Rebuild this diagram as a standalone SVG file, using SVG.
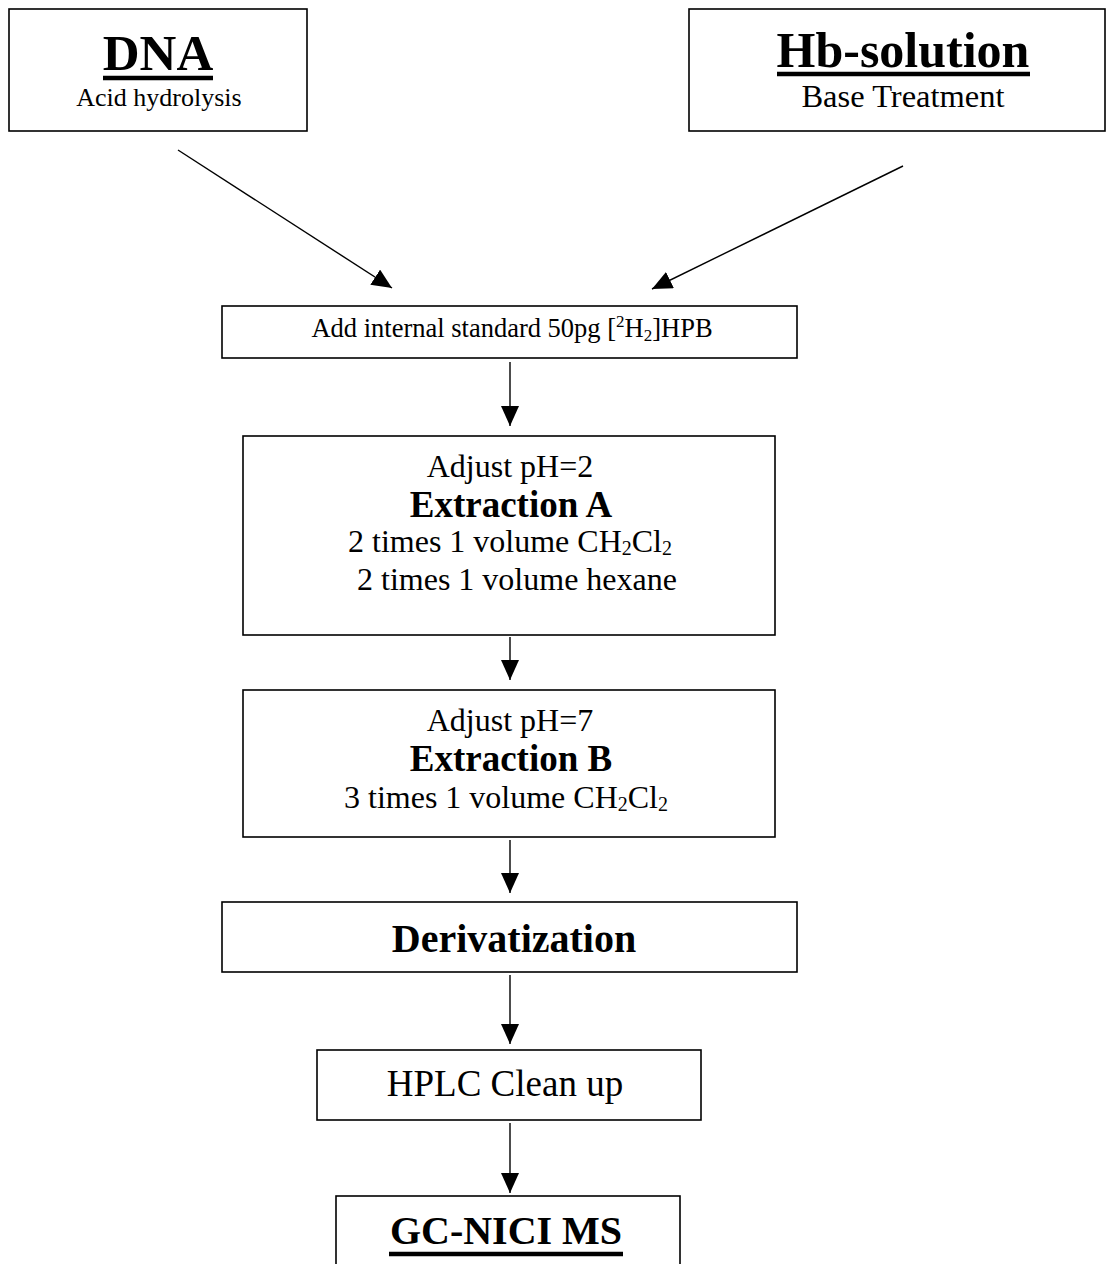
<svg xmlns="http://www.w3.org/2000/svg" width="1107" height="1264" viewBox="0 0 1107 1264">
<style>
.box{fill:#fff;stroke:#000;stroke-width:1.6}
.t{fill:#000;text-anchor:middle}
.b{font-weight:bold}
.ul{stroke:#000;stroke-width:4.5}
.conn line{stroke:#000;stroke-width:1.4}
</style>
<defs>
<marker id="ah" markerUnits="userSpaceOnUse" markerWidth="22" markerHeight="20" refX="20" refY="9" orient="auto">
<path d="M0,0 L20,9 L0,18 Z" fill="#000"/>
</marker>
</defs>
<rect width="1107" height="1264" fill="#fff"/>
<g font-family="Liberation Serif, Times New Roman, serif">
<g id="n-dna">
<rect class="box" x="9" y="9" width="298" height="122"/>
<text class="t b" x="158" y="70" font-size="51">DNA</text>
<line class="ul" x1="103" y1="78" x2="213" y2="78"/>
<text class="t" x="159" y="106" font-size="26">Acid hydrolysis</text>
</g>
<g id="n-hb">
<rect class="box" x="689" y="9" width="416" height="122"/>
<text class="t b" x="903" y="67" font-size="50">Hb-solution</text>
<line class="ul" x1="777" y1="74" x2="1030" y2="74"/>
<text class="t" x="903" y="107" font-size="32.5">Base Treatment</text>
</g>
<g id="n-std">
<rect class="box" x="222" y="306" width="575" height="52"/>
<text class="t" x="512" y="337" font-size="26.5">Add internal standard 50pg [<tspan font-size="17" dy="-10">2</tspan><tspan dy="10">H</tspan><tspan font-size="17" dy="4">2</tspan><tspan dy="-4">]HPB</tspan></text>
</g>
<g id="n-extA">
<rect class="box" x="243" y="436" width="532" height="199"/>
<text class="t" x="510" y="477" font-size="32">Adjust pH=2</text>
<text class="t b" x="511" y="517" font-size="37">Extraction A</text>
<text class="t" x="510" y="552" font-size="32">2 times 1 volume CH<tspan font-size="20" dy="3">2</tspan><tspan dy="-3">Cl</tspan><tspan font-size="20" dy="3">2</tspan></text>
<text class="t" x="517" y="590" font-size="32">2 times 1 volume hexane</text>
</g>
<g id="n-extB">
<rect class="box" x="243" y="690" width="532" height="147"/>
<text class="t" x="510" y="731" font-size="32">Adjust pH=7</text>
<text class="t b" x="511" y="771" font-size="37">Extraction B</text>
<text class="t" x="506" y="808" font-size="32">3 times 1 volume CH<tspan font-size="20" dy="3">2</tspan><tspan dy="-3">Cl</tspan><tspan font-size="20" dy="3">2</tspan></text>
</g>
<g id="n-deriv">
<rect class="box" x="222" y="902" width="575" height="70"/>
<text class="t b" x="514" y="952" font-size="40">Derivatization</text>
</g>
<g id="n-hplc">
<rect class="box" x="317" y="1050" width="384" height="70"/>
<text class="t" x="505" y="1096" font-size="37">HPLC Clean up</text>
</g>
<g id="n-gc">
<rect class="box" x="336" y="1196" width="344" height="80"/>
<text class="t b" x="506" y="1244" font-size="40">GC-NICI MS</text>
<line class="ul" x1="389" y1="1254" x2="623" y2="1254"/>
</g>
</g>
<g id="connectors" class="conn">
<line x1="178" y1="150" x2="392" y2="288" marker-end="url(#ah)"/>
<line x1="903" y1="166" x2="652" y2="289" marker-end="url(#ah)"/>
<line x1="510" y1="362" x2="510" y2="426" marker-end="url(#ah)"/>
<line x1="510" y1="637" x2="510" y2="680" marker-end="url(#ah)"/>
<line x1="510" y1="840" x2="510" y2="893" marker-end="url(#ah)"/>
<line x1="510" y1="975" x2="510" y2="1044" marker-end="url(#ah)"/>
<line x1="510" y1="1123" x2="510" y2="1193" marker-end="url(#ah)"/>
</g>
</svg>
